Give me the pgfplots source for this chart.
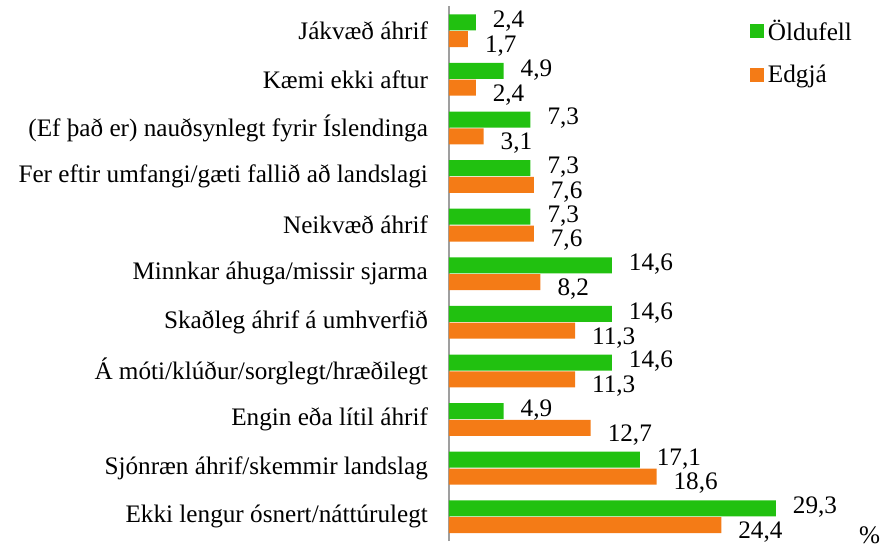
\documentclass[border=0pt]{standalone}
\usepackage{pgfplots}
\pgfplotsset{compat=1.18}
\usepackage{fontspec}
\setmainfont{Liberation Serif}
\definecolor{cgreen}{RGB}{33,193,16}
\definecolor{corange}{RGB}{244,123,22}
\begin{document}
\begin{tikzpicture}[font=\fontsize{12.6}{14}\selectfont]
\begin{axis}[
  xbar, scale only axis,
  width=212pt, height=267.3pt,
  xmin=0, xmax=38, ymin=-0.5, ymax=10.5,
  axis x line=none, axis y line=left,
  y axis line style={-, draw=gray!75, line width=0.8pt},
  ytick={0,...,10},
  yticklabels={Ekki lengur ósnert/náttúrulegt, Sjónræn áhrif/skemmir landslag, Engin eða lítil áhrif, Á móti/klúður/sorglegt/hræðilegt, Skaðleg áhrif á umhverfið, Minnkar áhuga/missir sjarma, Neikvæð áhrif, Fer eftir umfangi/gæti fallið að landslagi, (Ef það er) nauðsynlegt fyrir Íslendinga, Kæmi ekki aftur, Jákvæð áhrif},
  major tick length=0pt,
  yticklabel style={xshift=-7pt},
  bar width=8pt,
  nodes near coords,
  /pgf/number format/assume math mode=true,
  /pgf/number format/use comma,
  /pgf/number format/fixed,
  /pgf/number format/fixed zerofill,
  /pgf/number format/precision=1,
  nodes near coords style={anchor=west, xshift=5pt},
  clip=false,
  legend style={at={(axis cs:26.4,10.4)}, anchor=north west, draw=none, fill=none, row sep=7pt, font=\fontsize{12.6}{14}\selectfont},
  legend cell align=left,
  legend image code/.code={\fill[#1] (0pt,-3.5pt) rectangle (7pt,3.5pt);},
]
\addplot[fill=cgreen, draw=none, bar shift=4.2pt, nodes near coords style={/tikz/yshift=0.5pt}] coordinates {
(29.3,0) (17.1,1) (4.9,2) (14.6,3) (14.6,4) (14.6,5) (7.3,6) (7.3,7) (7.3,8) (4.9,9) (2.4,10)};
\addlegendentry{Öldufell}
\addplot[fill=corange, draw=none, bar shift=-4.2pt, nodes near coords style={/tikz/yshift=-3.5pt}] coordinates {
(24.4,0) (18.6,1) (12.7,2) (11.3,3) (11.3,4) (8.2,5) (7.6,6) (7.6,7) (3.1,8) (2.4,9) (1.7,10)};
\addlegendentry{Edgjá}
\coordinate (O) at (rel axis cs:0,0);
\node[anchor=base] at (axis cs:37.7,-0.55) {\%};
\end{axis}
\path (O) ++(-224.5pt,-2pt) rectangle ++(443.5pt,272.5pt);
\end{tikzpicture}
\end{document}
